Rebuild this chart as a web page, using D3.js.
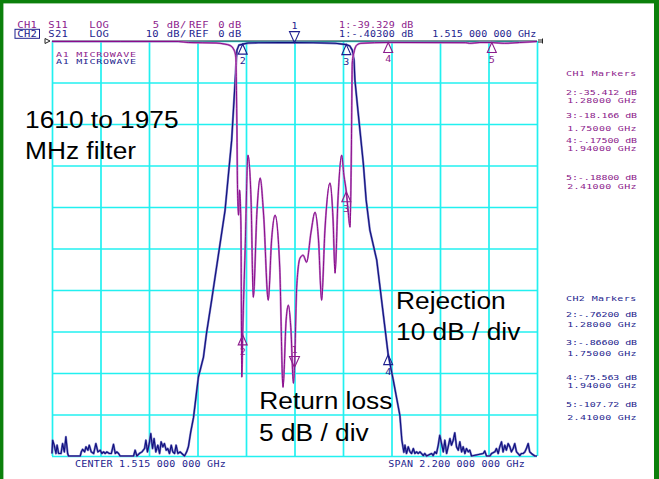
<!DOCTYPE html>
<html><head><meta charset="utf-8">
<script src="https://cdn.jsdelivr.net/npm/d3@7"></script>
<style>
html,body{margin:0;padding:0;background:#fff;}
svg{display:block;}
</style></head><body>
<svg id="c" width="659" height="479"></svg>
<script>
// ---------- data ----------
const s11Freq = [0.415,0.724,0.987,1.033,1.159,1.196,1.223,1.241,1.249,1.251,1.254,1.256,1.261,1.266,1.272,1.276,1.280,1.291,1.304,1.318,1.328,1.345,1.359,1.375,1.396,1.411,1.427,1.448,1.463,1.477,1.487,1.499,1.510,1.515,1.525,1.540,1.554,1.570,1.590,1.608,1.624,1.638,1.653,1.676,1.690,1.699,1.712,1.729,1.739,1.750,1.758,1.767,1.773,1.777,1.785,1.798,1.816,1.940,2.292,2.310,2.356,2.410,2.468,2.536,2.615];
const s11Db = [-0.06,-0.06,-0.06,-0.18,-0.24,-0.36,-0.54,-1.09,-1.93,-4.70,-10.73,-16.76,-20.98,-17.96,-22.18,-40.5,-35.41,-25.20,-13.75,-19.17,-30.87,-20.38,-16.52,-20.98,-31.23,-23.99,-20.98,-27.25,-41.72,-33.64,-31.83,-34.84,-41.23,-39.33,-29.66,-26.16,-25.80,-26.65,-23.03,-20.62,-23.99,-31.23,-22.79,-17.12,-21.58,-27.97,-19.17,-13.75,-16.16,-18.17,-20.38,-22.43,-13.14,-2.65,-1.33,-0.48,-0.28,-0.175,-0.20,-0.28,-0.18,-0.188,-0.28,-0.18,-0.06];

const s21Freq = [0.415,0.418,0.425,0.433,0.438,0.445,0.456,0.463,0.471,0.478,0.486,0.490,0.543,0.548,0.554,0.563,0.569,0.578,0.584,0.593,0.604,0.614,0.623,0.634,0.641,0.649,0.656,0.664,0.675,0.684,0.694,0.702,0.709,0.717,0.724,0.785,0.792,0.800,0.811,0.823,0.835,0.841,0.848,0.856,0.863,0.871,0.878,0.886,0.895,0.903,0.910,0.918,0.925,0.933,0.940,0.948,0.956,0.963,0.971,0.978,0.986,0.996,1.004,1.016,1.026,
  1.034,1.044,1.057,1.079,1.102,1.116,1.139,1.146,1.173,1.200,1.230,1.246,1.251,1.254,1.263,1.280,1.304,1.350,1.450,1.515,1.600,1.700,1.750,1.766,1.777,1.785,1.789,1.804,1.827,1.840,1.857,1.888,1.940,1.963,1.993,2.002,2.011,
  2.016,2.023,2.031,2.039,2.046,2.054,2.061,2.069,2.076,2.084,2.091,2.099,2.106,2.114,2.137,2.144,2.152,2.159,2.167,2.174,2.182,2.190,2.197,2.205,2.212,2.220,2.227,2.235,2.242,2.250,2.258,2.265,2.273,2.280,2.288,2.295,2.303,2.310,2.318,2.371,2.378,2.386,2.401,2.409,2.424,2.431,2.439,2.446,2.454,2.461,2.469,2.476,2.484,2.492,2.499,2.507,2.514,2.522,2.529,2.537,2.544,2.552,2.560,2.567,2.575,2.582,2.590,2.605,2.615];
const s21Db = [-99.4,-96.2,-97.4,-99.4,-97.4,-99.4,-99.4,-97.0,-99.0,-95.4,-99.4,-100,-100,-99.0,-98.4,-99.0,-97.8,-98.6,-97.4,-99.0,-99.4,-97.0,-99.0,-98.6,-99.4,-99.0,-99.4,-99.0,-99.4,-99.4,-97.2,-99.4,-99.0,-99.4,-100,-100,-98.6,-100,-99.4,-99.0,-98.2,-96.2,-99.0,-97.0,-94.6,-98.2,-95.8,-99.0,-97.4,-99.4,-96.6,-97.8,-97.0,-98.6,-98.2,-99.4,-97.4,-99.0,-99.4,-97.4,-99.4,-99.0,-99.4,-100,-99.0,
  -97.7,-94.3,-90.7,-81.0,-76.2,-70.4,-62.5,-60.0,-50.4,-40.8,-23.9,-9.4,-4.6,-2.2,-1.0,-0.762,-0.50,-0.42,-0.38,-0.403,-0.42,-0.55,-0.866,-1.2,-2.2,-4.6,-9.4,-17.4,-29.4,-38.3,-45.6,-52.8,-75.56,-81.7,-90.2,-96.2,-99.1,
  -97.4,-99.4,-97.8,-99.0,-99.4,-98.2,-99.4,-99.0,-99.4,-99.0,-99.4,-99.9,-99.4,-100,-99.4,-99.9,-99.0,-99.4,-97.4,-95.0,-97.0,-99.0,-96.2,-99.4,-97.8,-95.8,-97.4,-96.2,-94.4,-97.8,-98.6,-96.6,-99.0,-97.8,-99.4,-98.2,-99.0,-98.6,-100,-99.4,-98.8,-100,-100,-99.4,-99.0,-98.2,-99.4,-97.8,-96.6,-99.0,-97.4,-98.6,-97.0,-97.8,-99.0,-98.2,-97.0,-99.0,-99.4,-99.9,-99.4,-99.4,-99.0,-98.2,-97.0,-99.0,-99.4,-100,-100];

const markerIds = ["1","2","3","4","5"];
const markerFreqs = [1.515,1.28,1.75,1.94,2.41];
const ch1MarkerDb = [-39.329,-35.412,-18.166,-0.175,-0.188];
const ch2MarkerDb = [-0.403,-0.762,-0.866,-75.563,-107.72];
const ch1MarkerLines = ["2:-35.412 dB","1.28000 GHz","3:-18.166 dB","1.75000 GHz","4:-.17500 dB","1.94000 GHz","5:-.18800 dB","2.41000 GHz"];
const ch2MarkerLines = ["2:-.76200 dB","1.28000 GHz","3:-.86600 dB","1.75000 GHz","4:-75.563 dB","1.94000 GHz","5:-107.72 dB","2.41000 GHz"];
const gridFreqs = [0.415,0.635,0.855,1.075,1.295,1.515,1.735,1.955,2.175,2.395,2.615];
const ch2GridDb = [0,-10,-20,-30,-40,-50,-60,-70,-80,-90,-100];

// ---------- layout ----------
const svg = d3.select("#c");
const L = 52, R = 537, T = 41, B = 456;
const PURPLE = "#8c1c8c", PURPLE_T = "#8a0a8a", PURPLE_H = "#c080cc";
const NAVY = "#1e1e8e", NAVY_T = "#10107e", NAVY_H = "#7a7ac4";
const CYAN = "#22f0f0";
const MONO = "'DejaVu Sans Mono', monospace";

const x = d3.scaleLinear().domain([0.415, 2.615]).range([L, R]);
const y1 = d3.scaleLinear().domain([-50, 0]).range([B, T]);
const y2 = d3.scaleLinear().domain([-100, 0]).range([B, T]);

// green frame
svg.append("rect").attr("x",0).attr("y",0).attr("width",659).attr("height",479).attr("fill","#fff");
svg.append("rect").attr("x",0).attr("y",0).attr("width",3.4).attr("height",479).attr("fill","#0b800b");
svg.append("rect").attr("x",0).attr("y",0).attr("width",659).attr("height",3.4).attr("fill","#0b800b");
svg.append("rect").attr("x",654).attr("y",0).attr("width",5).attr("height",479).attr("fill","#0b800b");

// grid via axes
const gx = svg.append("g").attr("transform",`translate(0,${B})`)
  .call(d3.axisBottom(x).tickValues(gridFreqs).tickSize(-(B-T)).tickFormat(""));
const gy = svg.append("g").attr("transform",`translate(${L},0)`)
  .call(d3.axisLeft(y2).tickValues(ch2GridDb).tickSize(-(R-L)).tickFormat(""));
[gx,gy].forEach(g=>{
  g.select(".domain").remove();
  g.selectAll(".tick line").attr("stroke",CYAN).attr("stroke-width",1.7);
});
// top reference line
svg.append("line").attr("x1",L).attr("x2",R).attr("y1",T).attr("y2",T).attr("stroke","#303030").attr("stroke-width",1);
// reference indicators
svg.append("path").attr("d",`M45,${T-2.5} L50,${T} L45,${T+2.5} Z`).attr("fill","none").attr("stroke","#222").attr("stroke-width",1);
svg.append("path").attr("d",`M${R+1},${T-1} H${R+5} M${R+1},${T+1} H${R+5} M${R+5.5},${T-2.5} V${T+2.5}`).attr("stroke","#222").attr("stroke-width",1);

// clip
svg.append("clipPath").attr("id","pc").append("rect").attr("x",L-2).attr("y",T-3).attr("width",R-L+4).attr("height",B-T+5);

const s21 = s21Freq.map((f,i)=>({f, v:s21Db[i]}));
const s11 = s11Freq.map((f,i)=>({f, v:s11Db[i]}));
const line2 = d3.line().x(d=>x(d.f)).y(d=>y2(Math.max(d.v,-100)));
const line1 = d3.line().curve(d3.curveMonotoneX).x(d=>x(d.f)).y(d=>y1(Math.max(d.v,-50)));
const tr = svg.append("g").attr("clip-path","url(#pc)");
tr.append("path").attr("d",line2(s21)).attr("fill","none").attr("stroke",NAVY_H).attr("stroke-width",2.2).attr("stroke-linejoin","round");
tr.append("path").attr("d",line2(s21)).attr("fill","none").attr("stroke",NAVY_T).attr("stroke-width",1.1).attr("stroke-linejoin","round");
tr.append("path").attr("d",line1(s11)).attr("fill","none").attr("stroke",PURPLE_H).attr("stroke-width",2.0).attr("stroke-linejoin","round");
tr.append("path").attr("d",line1(s11)).attr("fill","none").attr("stroke",PURPLE_T).attr("stroke-width",1.0).attr("stroke-linejoin","round");

// text helper: VNA-style wide, short glyphs
function txt(xp, yp, s, color, size, ls, anchor, sy){
  return svg.append("text").attr("transform",`translate(${xp},${yp}) scale(1,${sy||1})`).text(s)
    .attr("fill",color).attr("font-family",MONO).attr("font-size",size||10)
    .attr("letter-spacing",ls==null?0.3:ls).attr("text-anchor",anchor||"start")
    .attr("xml:space","preserve");
}

// markers
function marker(f, db, yS, id, color, active){
  if (db < yS.domain()[0]) return;
  const mx = x(f), my = yS(db);
  const g = svg.append("g");
  if (active){
    g.append("path").attr("d",`M${mx},${my} L${mx-5},${my-11} L${mx+5},${my-11} Z`).attr("fill","none").attr("stroke",color).attr("stroke-width",1.1);
    txt(mx, my-14, id, color, 10, 0, "middle", 0.85);
  } else {
    g.append("path").attr("d",`M${mx},${my} L${mx-4.5},${my+10} L${mx+4.5},${my+10} Z`).attr("fill","none").attr("stroke",color).attr("stroke-width",1.1);
    txt(mx, my+20, id, color, 10, 0, "middle", 0.85);
  }
}
markerFreqs.forEach((f,i)=>{
  marker(f, ch2MarkerDb[i], y2, markerIds[i], NAVY, i===0);
  marker(f, ch1MarkerDb[i], y1, markerIds[i], PURPLE, i===0);
});

// header
const h1 = 27.7, h2 = 36.7;
[["CH1",17.3],["S11",48.3],["LOG",89.3],["5",152.7],["dB/",166.7],["REF",189],["0",218.3],["dB",228.3]]
  .forEach(([s,xp])=>txt(xp,h1,s,PURPLE,10.5,0.3,"start",0.8));
[["CH2",17.3],["S21",48.3],["LOG",89.3],["10",145.7],["dB/",166.7],["REF",189],["0",218.3],["dB",228.3]]
  .forEach(([s,xp])=>txt(xp,h2,s,NAVY,10.5,0.3,"start",0.8));
svg.append("rect").attr("x",15).attr("y",29.3).attr("width",24.5).attr("height",9).attr("fill","none").attr("stroke",NAVY).attr("stroke-width",1);
txt(339,h1,"1:-39.329 dB",PURPLE,10,0.2,"start",0.8);
txt(339,h2,"1:-.40300 dB",NAVY,10,0.2,"start",0.8);
txt(432.3,h2,"1.515 000 000 GHz",NAVY,10,0.1,"start",0.8);
txt(56,57,"A1 MICROWAVE",PURPLE,10,0.7,"start",0.76);
txt(56,64.2,"A1 MICROWAVE",NAVY,10,0.7,"start",0.76);

// bottom
txt(75,466.7,"CENTER 1.515 000 000 GHz",NAVY,10,0.28,"start",0.85);
txt(388.3,466.7,"SPAN 2.200 000 000 GHz",NAVY,10,0.2,"start",0.85);

// marker panels
txt(566,76,"CH1 Markers",PURPLE,10,0.4,"start",0.75);
const ch1Y = [95.3,103.1,117.7,131,143.4,151.2,180,189.3];
ch1MarkerLines.forEach((s,i)=>txt(i%2?567.3:566, ch1Y[i], s, PURPLE, 10, i%2?0.3:-0.1, "start", 0.66));
txt(566,300.7,"CH2 Markers",NAVY,10,0.4,"start",0.75);
const ch2Y = [317.3,327.3,345,356,379.8,387.6,406.7,420];
ch2MarkerLines.forEach((s,i)=>txt(i%2?567.3:566, ch2Y[i], s, NAVY, 10, i%2?0.3:-0.1, "start", 0.66));

// annotations
function big(xp, yp, s){
  svg.append("text").attr("transform",`translate(${xp},${yp}) scale(1.12,1)`).text(s)
    .attr("font-family","'Liberation Sans', Arial, sans-serif").attr("font-size",23.5).attr("fill","#000");
}
big(25,128,"1610 to 1975");
big(25,159,"MHz filter");
big(396,309,"Rejection");
big(396,340,"10 dB / div");
big(259.3,409.3,"Return loss");
big(259,441,"5 dB / div");
</script>
</body></html>
